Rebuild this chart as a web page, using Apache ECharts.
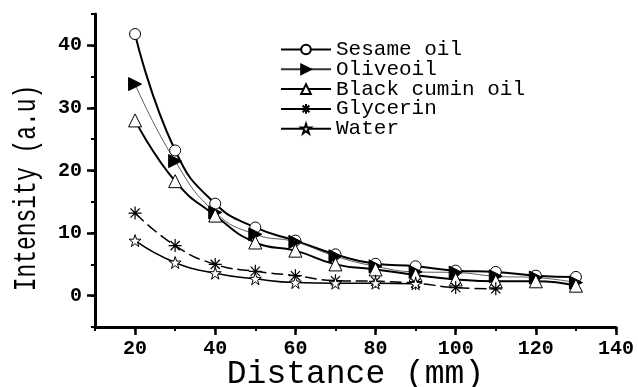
<!DOCTYPE html>
<html>
<head>
<meta charset="utf-8">
<script src="https://cdn.jsdelivr.net/npm/echarts@6/dist/echarts.min.js"></script>
<style>
  html, body { margin: 0; padding: 0; background: #fff; }
  #chart { width: 638px; height: 387px; }
</style>
</head>
<body>
<div id="chart"></div>
<script>
// Distance from the source (mm)
const distance = [20, 30, 40, 50, 60, 70, 80, 90, 100, 110, 120, 130];

// Measured intensity (a.u) for each liquid
const sesameOil     = [41.8, 23.2, 14.7, 10.9, 8.8, 6.6, 5.1, 4.7, 4.0, 3.8, 3.2, 3.0];
const oliveOil      = [33.8, 21.5, 13.3, 9.8, 8.6, 6.3, 4.7, 3.8, 3.7, 3.1, 2.9, 2.1];
const blackCuminOil = [28.0, 18.3, 12.8, 8.5, 7.2, 5.0, 4.2, 3.3, 2.6, 2.3, 2.3, 1.6];
const glycerin      = [13.2, 8.0, 5.0, 3.9, 3.2, 2.4, 2.3, 2.0, 1.3, 1.1];
const water         = [8.8, 5.3, 3.6, 2.7, 2.1, 2.0, 2.0, 1.9];

// Axis tick labels
const xTickLabels = [20, 40, 60, 80, 100, 120, 140];
const yTickLabels = [0, 10, 20, 30, 40];

const MONO = '"Liberation Mono", "DejaVu Sans Mono", monospace';

const STAR = 'path://M50,0 L61.8,35.3 L99,35.3 L69,57.1 L80.3,92.7 L50,70.5 L19.7,92.7 L31,57.1 L1,35.3 L38.2,35.3 Z';
const ASTERISK = 'path://M50,0 L50,100 M0,50 L100,50 M14.6,14.6 L85.4,85.4 M14.6,85.4 L85.4,14.6';

function pairs(values) {
  return values.map((v, i) => [distance[i], v]);
}

const chart = echarts.init(document.getElementById('chart'), null, { renderer: 'canvas' });

const axisLine = { show: true, onZero: false, lineStyle: { color: '#000', width: 3 } };
const SMOOTH = 0.5;

chart.setOption({
  animation: false,
  backgroundColor: '#fff',
  grid: { left: 95, right: 22, top: 14, bottom: 60, containLabel: false, outerBoundsMode: 'none' },
  xAxis: [
    {
      type: 'value', min: 10, max: 140, interval: 10, position: 'bottom',
      axisLine: axisLine,
      axisTick: { show: true, inside: false, length: 4, lineStyle: { color: '#000', width: 2 } },
      axisLabel: { show: false },
      splitLine: { show: false }
    },
    {
      type: 'value', min: 10, max: 140, position: 'bottom',
      axisLine: { show: false, onZero: false },
      axisTick: { show: true, inside: false, length: 8, customValues: xTickLabels,
                  lineStyle: { color: '#000', width: 2.5 } },
      axisLabel: { show: true, customValues: xTickLabels, margin: 12,
                   fontFamily: MONO, fontWeight: 'bold', fontSize: 20, color: '#000' },
      splitLine: { show: false },
      name: 'Distance (mm)', nameLocation: 'middle', nameGap: 31, nameMoveOverlap: false,
      nameTextStyle: { fontFamily: MONO, fontSize: 33, color: '#000' }
    }
  ],
  yAxis: [
    {
      type: 'value', min: -5, max: 45, interval: 5, position: 'left',
      axisLine: axisLine,
      axisTick: { show: true, inside: false, length: 4, lineStyle: { color: '#000', width: 2 } },
      axisLabel: { show: true, customValues: yTickLabels, margin: 13,
                   fontFamily: MONO, fontWeight: 'bold', fontSize: 20, color: '#000' },
      splitLine: { show: false }
    },
    {
      type: 'value', min: -5, max: 45, position: 'left',
      axisLine: { show: false, onZero: false },
      axisTick: { show: true, inside: false, length: 8, customValues: yTickLabels,
                  lineStyle: { color: '#000', width: 2.5 } },
      axisLabel: { show: false },
      splitLine: { show: false }
    }
  ],
  legend: {
    orient: 'vertical', left: 275, top: 34,
    itemWidth: 50, itemHeight: 12, itemGap: -1.2,
    textStyle: { fontFamily: MONO, fontSize: 21, color: '#000' },
    data: [
      { name: 'Sesame oil' },
      { name: 'Oliveoil' },
      { name: 'Black cumin oil' },
      { name: 'Glycerin', lineStyle: { type: 'solid', width: 2 } },
      { name: 'Water' }
    ]
  },
  graphic: [
    {
      type: 'text', x: 27, y: 188, rotation: Math.PI / 2, scaleX: 0.74, scaleY: 1,
      style: { text: 'Intensity (a.u)', font: '31px ' + MONO, fill: '#000',
               textAlign: 'center', textVerticalAlign: 'middle' }
    }
  ],
  series: [
    {
      name: 'Sesame oil', type: 'line', data: pairs(sesameOil),
      smooth: SMOOTH,
      symbol: 'circle', symbolSize: 11,
      lineStyle: { color: '#000', width: 2 },
      itemStyle: { color: '#fff', borderColor: '#000', borderWidth: 1 }
    },
    {
      name: 'Oliveoil', type: 'line', data: pairs(oliveOil),
      smooth: SMOOTH,
      symbol: 'triangle', symbolRotate: -90, symbolSize: 13,
      lineStyle: { color: '#333', width: 0.8 },
      itemStyle: { color: '#000', borderColor: '#000', borderWidth: 1 }
    },
    {
      name: 'Black cumin oil', type: 'line', data: pairs(blackCuminOil),
      smooth: SMOOTH,
      symbol: 'triangle', symbolSize: 13,
      lineStyle: { color: '#000', width: 2 },
      itemStyle: { color: '#fff', borderColor: '#000', borderWidth: 1 }
    },
    {
      name: 'Glycerin', type: 'line', data: pairs(glycerin),
      smooth: SMOOTH,
      symbol: ASTERISK, symbolSize: 13,
      lineStyle: { color: '#000', width: 1.5, type: [12, 5] },
      itemStyle: { color: '#000', borderColor: '#000', borderWidth: 1.2 }
    },
    {
      name: 'Water', type: 'line', data: pairs(water),
      smooth: SMOOTH,
      symbol: STAR, symbolSize: 12,
      lineStyle: { color: '#000', width: 1.5 },
      itemStyle: { color: '#fff', borderColor: '#000', borderWidth: 1 }
    }
  ]
});
</script>
</body>
</html>
